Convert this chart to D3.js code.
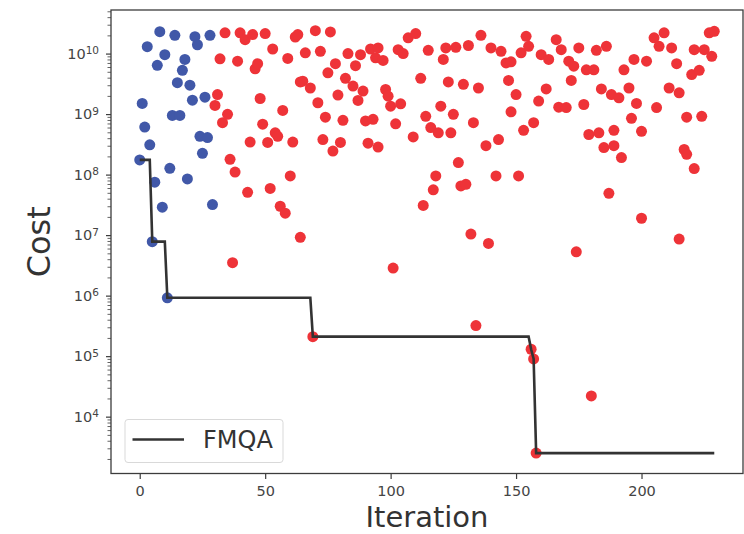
<!DOCTYPE html>
<html>
<head>
<meta charset="utf-8">
<script src="https://cdn.jsdelivr.net/npm/d3@7"></script>
<style>
  body { margin: 0; background: #fff; }
  svg { display: block; font-family: "DejaVu Sans", sans-serif; }
</style>
</head>
<body>
<svg id="chart" width="744" height="534"></svg>
<script>
// random-sampling phase (blue)
const blueIter = [0,1,2,3,4,5,6,7,8,9,10,11,12,13,14,15,16,17,18,19,20,21,22,23,24,25,26,27,28,29];
const blueCost = [1.75e8,1.5e9,6.1e8,1.3e10,3.1e8,7.8e6,7.5e7,6.4e9,2.3e10,2.9e7,
  9.6e9,9.2e5,1.27e8,9.5e8,2.0e10,3.3e9,9.5e8,5.3e9,8.0e9,8.5e7,
  3.0e9,1.7e9,1.9e10,1.4e10,4.3e8,2.25e8,1.9e9,4.1e8,2.0e10,3.2e7];

// FMQA phase (red)
const redIter = [30,31,32,33,34,35,36,37,38,39,40,42,43,44,45,46,47,48,49,50,
  51,52,53,54,55,56,57,58,59,60,61,62,63,64,64,65,66,68,69,70,
  71,72,73,74,75,76,77,78,79,80,81,82,83,85,86,87,88,89,90,91,
  92,93,94,95,95,97,98,99,100,101,102,103,104,105,107,109,110,112,113,114,
  115,116,117,118,119,120,121,122,123,124,125,126,127,128,129,130,131,132,133,134,
  135,136,138,139,140,142,143,144,146,147,148,148,150,151,152,153,154,155,156,157,
  157,158,159,160,162,163,166,167,168,170,171,172,173,174,175,177,178,179,180,181,
  182,183,184,185,186,187,188,189,189,191,192,193,195,196,197,198,200,200,202,205,
  206,207,209,211,212,214,215,215,217,218,218,220,221,221,223,224,225,227,228,229];
const redCost = [1.39e9,2.1e9,8.2e9,7.2e8,2.2e10,9.9e8,1.79e8,3.5e6,1.1e8,7.5e9,2.2e10,1.7e10,5.1e7,3.45e8,2.06e10,5.6e9,6.8e9,1.81e9,6.8e8,2.14e10,
  3.4e8,5.9e7,1.19e10,4.9e8,4.3e8,3.0e7,1.15e9,2.3e7,8.3e9,9.5e7,3.45e8,1.88e10,2.06e10,3.4e9,9.2e6,3.5e9,1.03e10,2.7e9,2.1e5,2.39e10,
  1.54e9,1.09e10,3.8e8,8.9e8,4.8e9,2.28e10,2.45e8,6.8e9,2.06e9,3.4e8,7.9e8,3.9e9,1.0e10,2.9e9,6.3e9,1.68e9,9.6e9,2.4e9,7.7e8,3.3e8,
  1.19e10,8.2e8,8.5e9,1.24e10,2.85e8,7.7e9,2.55e9,1.98e9,1.35e9,2.86e6,6.9e8,1.16e10,1.48e9,1.0e10,1.82e10,4.2e8,2.14e10,3.9e9,3.1e7,9.2e8,
  1.13e10,6.0e8,5.6e7,9.5e7,4.9e8,1.35e9,8.0e9,1.24e10,3.4e9,4.9e8,9.9e8,1.27e10,1.58e8,6.5e7,3.1e9,6.9e7,1.36e10,1.04e7,7.2e8,3.2e5,
  2.7e9,2.0e10,3.0e8,7.3e6,1.24e10,9.5e7,3.8e8,1.09e10,7.0e9,3.6e9,7.3e9,1.09e9,2.1e9,9.5e7,1.03e10,5.4e8,1.93e10,1.32e10,1.3e5,7.2e8,
  9.0e4,2.5e3,1.64e9,9.6e9,2.6e9,8.0e9,1.7e10,1.3e9,1.16e10,1.28e9,7.5e9,3.6e9,6.2e9,5.3e6,1.24e10,1.44e9,5.4e9,4.6e8,2.2e4,5.4e9,
  1.13e10,4.9e8,2.6e9,2.8e8,1.32e10,4.9e7,2.1e9,5.4e8,3.0e8,1.86e9,1.91e8,5.4e9,2.7e9,8.5e8,8.0e9,1.5e9,5.2e8,1.9e7,7.5e9,1.82e10,
  1.28e9,1.32e10,2.2e10,2.7e9,1.24e10,6.8e9,2.25e9,8.6e6,2.6e8,2.16e8,8.9e8,4.5e9,1.16e10,1.26e8,5.3e9,9.2e8,1.16e10,2.2e10,9.0e9,2.33e10];

// best cost found so far (FMQA line)
const bestIter = [0,4,5,10,11,68,69,155,156,157,158,229];
const bestCost = [1.75e8,1.75e8,7.8e6,7.8e6,9.2e5,9.2e5,2.1e5,2.1e5,1.3e5,9.0e4,2.5e3,2.5e3];

const xTicks = [0,50,100,150,200];
const yTickExps = [4,5,6,7,8,9,10];
const seriesName = "FMQA";

let svg = d3.select("#chart");
let plotLeft = 111, plotRight = 743, plotTop = 10, plotBottom = 473.5;
let blueColor = "#4158a8";
let redColor = "#ee3338";
let lineColor = "#333333";
let axisColor = "#3c3c3c";
let tickTextColor = "#444444";

svg.append("rect").attr("width", 744).attr("height", 534).attr("fill", "#fff");

let x = d3.scaleLinear().domain([-11.45, 240.45]).range([plotLeft, plotRight]);
let y = d3.scaleLog().domain([1.15e3, 5.25e10]).range([plotBottom, plotTop]);

// minor ticks on log axis
let minorTicks = [];
for (let k = 3; k <= 10; k++) {
  for (let m = 2; m <= 9; m++) {
    let v = m * Math.pow(10, k);
    if (v >= y.domain()[0] && v <= y.domain()[1]) minorTicks.push(v);
  }
}

// y axis minor
svg.append("g")
  .attr("transform", "translate(" + plotLeft + ",0)")
  .call(d3.axisLeft(y).tickValues(minorTicks).tickSize(3.5).tickFormat(""))
  .call(g => g.select(".domain").remove())
  .selectAll("line").attr("stroke", axisColor).attr("stroke-width", 0.8);

// y axis major with 10^n labels
let yAxis = svg.append("g")
  .attr("transform", "translate(" + plotLeft + ",0)")
  .call(d3.axisLeft(y).tickValues(yTickExps.map(e => Math.pow(10, e))).tickSize(5).tickPadding(7));
yAxis.select(".domain").remove();
yAxis.selectAll("line").attr("stroke", axisColor).attr("stroke-width", 1.2);
yAxis.selectAll("text")
  .attr("fill", tickTextColor)
  .style("font-size", "14.5px")
  .style("font-family", "DejaVu Sans")
  .each(function(d) {
    let t = d3.select(this);
    let e = Math.round(Math.log10(d));
    t.text(null);
    t.append("tspan").text("10");
    t.append("tspan").attr("dy", "-0.45em").style("font-size", "10.5px").text(e);
  });

// x axis
let xAxis = svg.append("g")
  .attr("transform", "translate(0," + plotBottom + ")")
  .call(d3.axisBottom(x).tickValues(xTicks).tickSize(5.5).tickPadding(6.5).tickFormat(d3.format("d")));
xAxis.select(".domain").remove();
xAxis.selectAll("line").attr("stroke", axisColor).attr("stroke-width", 1.2);
xAxis.selectAll("text")
  .attr("fill", tickTextColor)
  .style("font-size", "14.5px")
  .style("font-family", "DejaVu Sans");

// scatter points
svg.append("g").selectAll("circle")
  .data(blueIter.map((d, i) => [d, blueCost[i]]))
  .enter().append("circle")
  .attr("cx", d => x(d[0]))
  .attr("cy", d => y(d[1]))
  .attr("r", 5.5)
  .attr("fill", blueColor);

svg.append("g").selectAll("circle")
  .data(redIter.map((d, i) => [d, redCost[i]]))
  .enter().append("circle")
  .attr("cx", d => x(d[0]))
  .attr("cy", d => y(d[1]))
  .attr("r", 5.5)
  .attr("fill", redColor);

// best-so-far line
let line = d3.line().x(d => x(d[0])).y(d => y(d[1]));
svg.append("path")
  .datum(bestIter.map((d, i) => [d, bestCost[i]]))
  .attr("d", line)
  .attr("fill", "none")
  .attr("stroke", lineColor)
  .attr("stroke-width", 2.6)
  .attr("stroke-linejoin", "miter");

// frame
svg.append("rect")
  .attr("x", plotLeft).attr("y", plotTop)
  .attr("width", plotRight - plotLeft).attr("height", plotBottom - plotTop)
  .attr("fill", "none")
  .attr("stroke", axisColor)
  .attr("stroke-width", 1.3);

// axis labels
svg.append("text")
  .attr("x", (plotLeft + plotRight) / 2)
  .attr("y", 527)
  .attr("text-anchor", "middle")
  .attr("fill", "#333")
  .style("font-size", "29px")
  .text("Iteration");

svg.append("text")
  .attr("transform", "translate(50," + ((plotTop + plotBottom) / 2) + ") rotate(-90)")
  .attr("text-anchor", "middle")
  .attr("fill", "#333")
  .style("font-size", "32px")
  .text("Cost");

// legend
let legend = svg.append("g");
legend.append("rect")
  .attr("x", 125).attr("y", 419.5)
  .attr("width", 158).attr("height", 43)
  .attr("rx", 3)
  .attr("fill", "#fff").attr("fill-opacity", 0.8)
  .attr("stroke", "#d9d9d9");
legend.append("line")
  .attr("x1", 132.5).attr("x2", 184)
  .attr("y1", 439.5).attr("y2", 439.5)
  .attr("stroke", lineColor)
  .attr("stroke-width", 2.6);
legend.append("text")
  .attr("x", 203)
  .attr("y", 448)
  .attr("fill", "#333")
  .style("font-size", "24px")
  .text(seriesName);
</script>
</body>
</html>
